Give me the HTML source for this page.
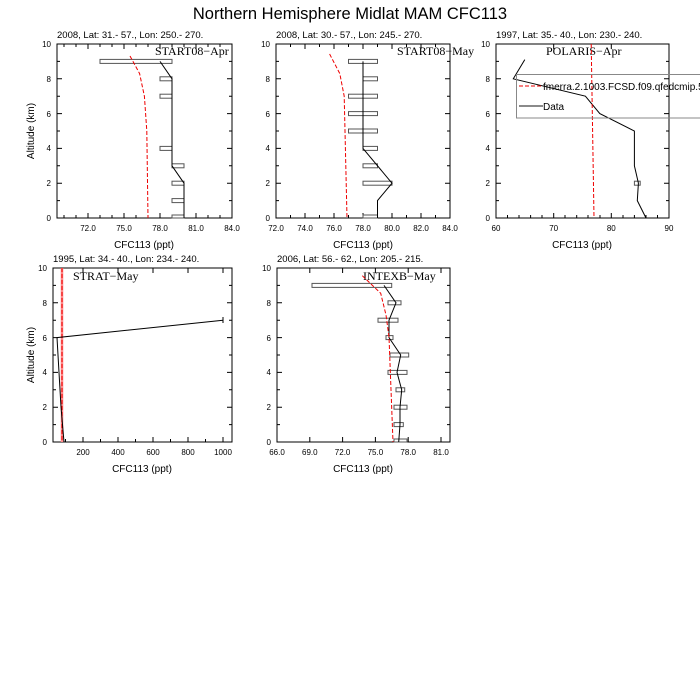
<!DOCTYPE html>
<html><head><style>
body{margin:0;background:#fff;}
svg{display:block;font-family:"Liberation Sans",sans-serif;}
.t{font-size:8px;}
.s{font-size:9.5px;}
.a{font-size:10px;}
.lb{font-family:"Liberation Serif",serif;font-size:12px;}
</style></head><body>
<svg width="700" height="700" viewBox="0 0 700 700" xmlns="http://www.w3.org/2000/svg">
<text x="350" y="19" text-anchor="middle" font-size="16.5">Northern Hemisphere Midlat MAM CFC113</text>

<!-- Panel 1 -->
<text x="57" y="38" class="s">2008, Lat:  31.- 57., Lon: 250.- 270.</text>
<g stroke="#000" fill="none" stroke-width="1">
<rect x="57" y="44" width="175" height="174"/>
<path d="M57 218h5M57 183.2h5M57 148.4h5M57 113.6h5M57 78.8h5M57 44h5M232 218h-5M232 183.2h-5M232 148.4h-5M232 113.6h-5M232 78.8h-5M57 200.6h3M57 165.8h3M57 131h3M57 96.2h3M57 61.4h3M232 200.6h-3M232 165.8h-3M232 131h-3M232 96.2h-3M232 61.4h-3"/>
<path d="M88 218v-5M124 218v-5M160 218v-5M196 218v-5M88 44v5M124 44v5M160 44v5M196 44v5M64 218v-3M76 218v-3M100 218v-3M112 218v-3M136 218v-3M148 218v-3M172 218v-3M184 218v-3M208 218v-3M220 218v-3M64 44v3M76 44v3M100 44v3M112 44v3M136 44v3M148 44v3M172 44v3M184 44v3M208 44v3M220 44v3"/>
</g>
<g class="t" text-anchor="end"><text x="51" y="221">0</text><text x="51" y="186">2</text><text x="51" y="151">4</text><text x="51" y="117">6</text><text x="51" y="82">8</text><text x="51" y="47">10</text></g>
<g class="t" text-anchor="middle"><text x="88" y="231">72.0</text><text x="124" y="231">75.0</text><text x="160" y="231">78.0</text><text x="196" y="231">81.0</text><text x="232" y="231">84.0</text></g>
<text x="144" y="248" class="a" text-anchor="middle">CFC113 (ppt)</text>
<text transform="translate(34 131) rotate(-90)" class="a" text-anchor="middle">Altitude (km)</text>
<text x="155" y="55" class="lb">START08−Apr</text>
<g stroke="#555" fill="none" stroke-width="1">
<rect x="100" y="59.4" width="72" height="4"/><rect x="160" y="76.8" width="12" height="4"/><rect x="160" y="94.2" width="12" height="4"/><rect x="160" y="146.4" width="12" height="4"/><rect x="172" y="163.8" width="12" height="4"/><rect x="172" y="181.2" width="12" height="4"/><rect x="172" y="198.6" width="12" height="4"/><rect x="172" y="215" width="12" height="3"/>
</g>
<polyline points="184,218 184,183.2 172,165.8 172,78.8 160,61.4" fill="none" stroke="#000"/>
<polyline points="130,56 139.6,73.6 144.4,96.2 146.8,131 148,218" fill="none" stroke="#e00" stroke-dasharray="4,2"/>

<!-- Panel 2 -->
<text x="276" y="38" class="s">2008, Lat:  30.- 57., Lon: 245.- 270.</text>
<g stroke="#000" fill="none">
<rect x="276" y="44" width="174" height="174"/>
<path d="M276 218h5M276 183.2h5M276 148.4h5M276 113.6h5M276 78.8h5M450 218h-5M450 183.2h-5M450 148.4h-5M450 113.6h-5M450 78.8h-5M276 200.6h3M276 165.8h3M276 131h3M276 96.2h3M276 61.4h3M450 200.6h-3M450 165.8h-3M450 131h-3M450 96.2h-3M450 61.4h-3"/>
<path d="M305 218v-5M334 218v-5M363 218v-5M392 218v-5M421 218v-5M305 44v5M334 44v5M363 44v5M392 44v5M421 44v5M290.5 218v-3M319.5 218v-3M348.5 218v-3M377.5 218v-3M406.5 218v-3M435.5 218v-3M290.5 44v3M319.5 44v3M348.5 44v3M377.5 44v3M406.5 44v3M435.5 44v3"/>
</g>
<g class="t" text-anchor="end"><text x="270" y="221">0</text><text x="270" y="186">2</text><text x="270" y="151">4</text><text x="270" y="117">6</text><text x="270" y="82">8</text><text x="270" y="47">10</text></g>
<g class="t" text-anchor="middle"><text x="276" y="231">72.0</text><text x="305" y="231">74.0</text><text x="334" y="231">76.0</text><text x="363" y="231">78.0</text><text x="392" y="231">80.0</text><text x="421" y="231">82.0</text><text x="450" y="231">84.0</text></g>
<text x="363" y="248" class="a" text-anchor="middle">CFC113 (ppt)</text>
<text x="397" y="55" class="lb">START08−May</text>
<g stroke="#555" fill="none">
<rect x="348.5" y="59.4" width="29" height="4"/><rect x="363" y="76.8" width="14.5" height="4"/><rect x="348.5" y="94.2" width="29" height="4"/><rect x="348.5" y="111.6" width="29" height="4"/><rect x="348.5" y="129" width="29" height="4"/><rect x="363" y="146.4" width="14.5" height="4"/><rect x="363" y="163.8" width="14.5" height="4"/><rect x="363" y="181.2" width="29" height="4"/><rect x="363" y="215" width="14.5" height="3"/>
</g>
<polyline points="377.5,218 377.5,200.6 392,183.2 363,148.4 363,61.4" fill="none" stroke="#000"/>
<polyline points="329.6,54 339.8,73.6 344.2,96.2 347,218" fill="none" stroke="#e00" stroke-dasharray="4,2"/>

<!-- Panel 3 -->
<text x="496" y="38" class="s">1997, Lat: 35.- 40., Lon: 230.- 240.</text>
<g stroke="#000" fill="none">
<rect x="496" y="44" width="173" height="174"/>
<path d="M496 218h5M496 183.2h5M496 148.4h5M496 113.6h5M496 78.8h5M669 218h-5M669 183.2h-5M669 148.4h-5M669 113.6h-5M669 78.8h-5M496 200.6h3M496 165.8h3M496 131h3M496 96.2h3M496 61.4h3M669 200.6h-3M669 165.8h-3M669 131h-3M669 96.2h-3M669 61.4h-3"/>
<path d="M553.7 218v-5M611.3 218v-5M553.7 44v5M611.3 44v5M507.5 218v-3M519 218v-3M530.6 218v-3M542 218v-3M565 218v-3M576.7 218v-3M588 218v-3M600 218v-3M623 218v-3M634.4 218v-3M646 218v-3M657.5 218v-3"/>
</g>
<g class="t" text-anchor="end"><text x="490" y="221">0</text><text x="490" y="186">2</text><text x="490" y="151">4</text><text x="490" y="117">6</text><text x="490" y="82">8</text><text x="490" y="47">10</text></g>
<g class="t" text-anchor="middle"><text x="496" y="231">60</text><text x="553.7" y="231">70</text><text x="611.3" y="231">80</text><text x="669" y="231">90</text></g>
<text x="582" y="248" class="a" text-anchor="middle">CFC113 (ppt)</text>
<text x="546" y="55" class="lb">POLARIS−Apr</text>
<rect x="634.4" y="181.2" width="5.8" height="4" stroke="#555" fill="none"/>
<polyline points="646,218 637.3,200.6 638.4,183.2 634.4,165.8 634.4,131 599.8,113.6 585.4,96.2 513.3,78.8 524.8,59.6" fill="none" stroke="#000"/>
<polyline points="591.2,44 594,218" fill="none" stroke="#e00" stroke-dasharray="4,2"/>
<rect x="516.5" y="74.5" width="190" height="43.5" stroke="#888" fill="none"/>
<line x1="519" y1="86" x2="543" y2="86" stroke="#e00" stroke-dasharray="4,2"/>
<text x="543" y="90" class="a">fmerra.2.1003.FCSD.f09.qfedcmip.5</text>
<line x1="519" y1="106" x2="543" y2="106" stroke="#444" stroke-width="1.3"/>
<text x="543" y="110" class="a">Data</text>

<!-- Panel 4 -->
<text x="53" y="262" class="s">1995, Lat: 34.- 40., Lon: 234.- 240.</text>
<g stroke="#000" fill="none">
<rect x="53" y="268" width="179" height="174"/>
<path d="M53 442h5M53 407.2h5M53 372.4h5M53 337.6h5M53 302.8h5M232 442h-5M232 407.2h-5M232 372.4h-5M232 337.6h-5M232 302.8h-5M53 424.6h3M53 389.8h3M53 355h3M53 320.2h3M53 285.4h3M232 424.6h-3M232 389.8h-3M232 355h-3M232 320.2h-3M232 285.4h-3"/>
<path d="M83 442v-5M118 442v-5M153 442v-5M188 442v-5M223 442v-5M83 268v5M118 268v5M153 268v5M188 268v5M223 268v5M65.5 442v-3M100.5 442v-3M135.5 442v-3M170.5 442v-3M205.5 442v-3"/>
</g>
<g class="t" text-anchor="end"><text x="47" y="445">0</text><text x="47" y="410">2</text><text x="47" y="375">4</text><text x="47" y="341">6</text><text x="47" y="306">8</text><text x="47" y="271">10</text></g>
<g class="t" text-anchor="middle"><text x="83" y="455">200</text><text x="118" y="455">400</text><text x="153" y="455">600</text><text x="188" y="455">800</text><text x="223" y="455">1000</text></g>
<text x="142" y="472" class="a" text-anchor="middle">CFC113 (ppt)</text>
<text transform="translate(34 355) rotate(-90)" class="a" text-anchor="middle">Altitude (km)</text>
<text x="73" y="280" class="lb">STRAT−May</text>
<line x1="62" y1="268" x2="62" y2="442" stroke="#f88" stroke-width="2.5"/>
<line x1="62" y1="268" x2="62" y2="442" stroke="#e00" stroke-dasharray="4,2"/>
<polyline points="64,442 61,407 57,337.6 223,320.2" fill="none" stroke="#000"/>
<line x1="223" y1="317" x2="223" y2="323" stroke="#000"/>

<!-- Panel 5 -->
<text x="277" y="262" class="s">2006, Lat: 56.- 62., Lon: 205.- 215.</text>
<g stroke="#000" fill="none">
<rect x="277" y="268" width="173" height="174"/>
<path d="M277 442h5M277 407.2h5M277 372.4h5M277 337.6h5M277 302.8h5M450 442h-5M450 407.2h-5M450 372.4h-5M450 337.6h-5M450 302.8h-5M277 424.6h3M277 389.8h3M277 355h3M277 320.2h3M277 285.4h3M450 424.6h-3M450 389.8h-3M450 355h-3M450 320.2h-3M450 285.4h-3"/>
<path d="M309.8 442v-5M342.6 442v-5M375.4 442v-5M408.2 442v-5M441 442v-5M309.8 268v5M342.6 268v5M375.4 268v5M408.2 268v5M441 268v5"/>
</g>
<g class="t" text-anchor="end"><text x="271" y="445">0</text><text x="271" y="410">2</text><text x="271" y="375">4</text><text x="271" y="341">6</text><text x="271" y="306">8</text><text x="271" y="271">10</text></g>
<g class="t" text-anchor="middle"><text x="277" y="455">66.0</text><text x="309.8" y="455">69.0</text><text x="342.6" y="455">72.0</text><text x="375.4" y="455">75.0</text><text x="408.2" y="455">78.0</text><text x="441" y="455">81.0</text></g>
<text x="363" y="472" class="a" text-anchor="middle">CFC113 (ppt)</text>
<text x="363" y="280" class="lb">INTEXB−May</text>
<g stroke="#555" fill="none">
<rect x="312" y="283.4" width="79.7" height="4"/><rect x="388" y="300.8" width="13" height="4"/><rect x="378" y="318.2" width="20" height="4"/><rect x="386" y="335.6" width="7" height="4"/><rect x="390" y="353" width="18.7" height="4"/><rect x="388" y="370.4" width="19" height="4"/><rect x="396" y="387.8" width="8.7" height="4"/><rect x="394" y="405.2" width="13" height="4"/><rect x="394" y="422.6" width="9.3" height="4"/><rect x="394" y="439" width="13" height="3"/>
</g>
<polyline points="398.7,442 400,424.6 400,407.2 401.7,389.8 397,372.4 400.7,355 389,337.6 389,320.2 396,302.8 384,285.4" fill="none" stroke="#000"/>
<polyline points="362.3,275.7 380.7,293.3 386,315 389,337 393,442" fill="none" stroke="#e00" stroke-dasharray="4,2"/>
</svg>
</body></html>
